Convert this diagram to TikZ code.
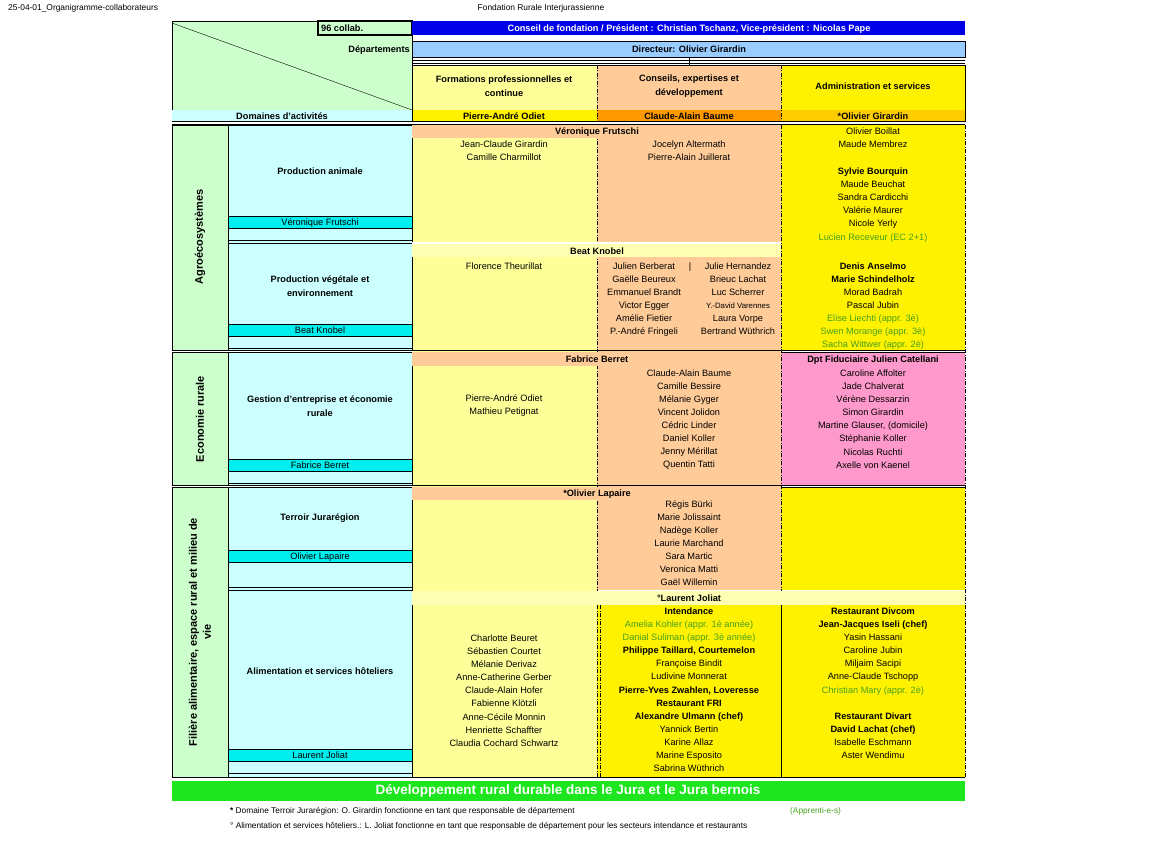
\documentclass[tikz,border=0pt]{standalone}
\usepackage{fontspec}
\setmainfont{Liberation Sans}
\usetikzlibrary{positioning}
\definecolor{hdrgreen}{RGB}{204,255,204}
\definecolor{ltcyan}{RGB}{204,255,255}
\definecolor{cyanbar}{RGB}{0,238,238}
\definecolor{ltyellow}{RGB}{255,255,153}
\definecolor{paleyellow}{RGB}{255,255,180}
\definecolor{peach}{RGB}{255,204,153}
\definecolor{orangecell}{RGB}{255,153,0}
\definecolor{ltorange}{RGB}{255,204,0}
\definecolor{pinkcell}{RGB}{255,153,204}
\definecolor{bluebar}{RGB}{0,0,230}
\definecolor{ltblue}{RGB}{153,204,255}
\definecolor{greenbar}{RGB}{30,230,30}
\definecolor{apprgreen}{RGB}{70,160,30}
\tikzset{
  txt/.style={inner sep=0pt, yshift=-1pt, text height=6.6pt, text depth=1.9pt, font=\fontsize{9.2}{10}\selectfont},
  btxt/.style={txt, font=\fontsize{9.2}{10}\selectfont\bfseries},
  gtxt/.style={txt, text=apprgreen},
  mtxt/.style={inner sep=0pt, align=center, font=\fontsize{9.2}{14}\selectfont\bfseries},
  vtxt/.style={inner sep=0pt, rotate=90, font=\fontsize{11}{13}\selectfont\bfseries},
  sep/.style={dash pattern=on 4pt off 1.5pt on 1pt off 1.5pt, line width=0.6pt},
  frame/.style={draw=black, line width=0.6pt}
}
\begin{document}
\begin{tikzpicture}[x=1pt, y=-1pt]
\useasboundingbox (0,0) rectangle (1150,848);
% page header
\node[txt, anchor=west, font=\fontsize{8.4}{9}\selectfont] (file) at (8,7) {25-04-01\_Organigramme-collaborateurs};
\node[txt, font=\fontsize{8.4}{9}\selectfont] (found) at (541,7) {Fondation Rurale Interjurassienne};
% top header
\fill[hdrgreen] (172,21) rectangle (412,110);
\draw[frame] (172,21) rectangle (412,110);
\draw (172,23) -- (412,110);
\draw[frame, fill=hdrgreen, line width=1.2pt] (318,21) rectangle (412,35);
\node[btxt, anchor=west] (collab) at (321,28) {96 collab.};
\fill[bluebar] (412,21) rectangle (965,35);
\node[btxt, text=white] (conseil) at (689,28) {Conseil de fondation / Président : Christian Tschanz, Vice-président : Nicolas Pape};
\draw[frame, fill=ltblue] (412,41) rectangle (965,57);
\node[btxt] (dir) at (689,49) {Directeur: Olivier Girardin};
\node[btxt, anchor=east] (dep) at (410,49) {Départements};
\draw (412,60) -- (965,60) (412,63) -- (965,63) (689,57) -- (689,65);
% department headers
\fill[ltyellow] (412,65) rectangle (597,110);
\fill[peach] (597,65) rectangle (781,110);
\fill[yellow] (781,65) rectangle (965,110);
\fill[yellow] (412,110) rectangle (597,121);
\fill[orangecell] (597,110) rectangle (781,121);
\fill[ltorange] (781,110) rectangle (965,121);
\fill[ltcyan] (172,110) rectangle (412,121);
\draw[frame] (412,65) rectangle (965,121);
\draw[sep] (597,65) -- (597,121) (781,65) -- (781,121);
\node[mtxt] (dform) at (504,86) {Formations professionnelles et\\continue};
\node[mtxt] (dcons) at (689,86) {Conseils, expertises et\\développement};
\node[btxt] (dadm) at (873,86) {Administration et services};
\node[btxt] (hform) at (504,116) {Pierre-André Odiet};
\node[btxt] (hcons) at (689,116) {Claude-Alain Baume};
\node[btxt] (hadm) at (873,116) {*Olivier Girardin};
\node[btxt] (dom) at (282,116) {Domaines d'activités};
\draw (172,121) -- (965,121) (172,124) -- (965,124);
% body backgrounds
\fill[ltyellow] (412,125) rectangle (597,777);
\fill[peach] (597,125) rectangle (781,590);
\fill[yellow] (597,605) rectangle (781,777);
\fill[yellow] (781,125) rectangle (965,350);
\fill[pinkcell] (781,352) rectangle (965,485);
\fill[yellow] (781,487) rectangle (965,590);
\fill[yellow] (781,605) rectangle (965,777);
% left columns
\foreach \ya/\yb in {125/350, 352/485, 487/777}
  \draw[frame, fill=hdrgreen] (172,\ya) rectangle (228,\yb);
\foreach \ya/\yb/\yc/\yd/\ye in {125/216/228/240/243, 243/324/336/348/350, 352/459/471/483/485, 487/550/562/587/590, 590/749/761/773/777}{
  \draw[frame, fill=ltcyan] (228,\ya) rectangle (412,\ye);
  \draw[frame, fill=cyanbar] (228,\yb) rectangle (412,\yc);
  \draw (228,\yd) -- (412,\yd);
}
\node[vtxt] (agro) at (200,237) {Agroécosystèmes};
\node[vtxt] (eco) at (200,419) {Economie rurale};
\node[vtxt, align=center] (fil) at (200,632) {Filière alimentaire, espace rural et milieu de\\[1pt]vie};
\node[btxt] (panim) at (320,171) {Production animale};
\node[txt] (panimn) at (320,222) {Véronique Frutschi};
\node[mtxt] (pveg) at (320,286) {Production végétale et\\environnement};
\node[txt] (pvegn) at (320,330) {Beat Knobel};
\node[mtxt] (gest) at (320,406) {Gestion d'entreprise et économie\\rurale};
\node[txt] (gestn) at (320,465) {Fabrice Berret};
\node[btxt] (terr) at (320,517) {Terroir Jurarégion};
\node[txt] (terrn) at (320,556) {Olivier Lapaire};
\node[btxt] (alim) at (320,671) {Alimentation et services hôteliers};
\node[txt] (alimn) at (320,755) {Laurent Joliat};
% section separators
\foreach \y in {350, 352, 485, 487}
  \draw (172,\y) -- (965,\y);
\draw (172,777) -- (965,777);
\draw[sep] (597,125) -- (597,777) (781,125) -- (781,777) (965,125) -- (965,777);
\draw[sep] (600,605) -- (600,777);
\draw (781,605) -- (781,777) -- (965,777);
% section heads, over the dashed lines
\fill[peach] (412,125) rectangle (781,138);
\fill[white] (412,242) rectangle (781,244);
\fill[paleyellow] (412,244) rectangle (781,257);
\fill[peach] (412,352) rectangle (781,366);
\fill[peach] (412,487) rectangle (781,500);
\fill[paleyellow] (412,591) rectangle (965,605);
\node[btxt] (hvf) at (597,131) {Véronique Frutschi};
\node[btxt] (hbk) at (597,251) {Beat Knobel};
\node[btxt] (hfb) at (597,359) {Fabrice Berret};
\node[btxt] (hol) at (597,493) {*Olivier Lapaire};
\node[btxt] (hlj) at (689,598) {°Laurent Joliat};
% production animale
\foreach \n [count=\i] in {Jean-Claude Girardin, Camille Charmillot}
  \node[txt] (a1r\i) at (504,131+13*\i) {\n};
\foreach \n [count=\i] in {Jocelyn Altermath, Pierre-Alain Juillerat}
  \node[txt] (a2r\i) at (689,131+13*\i) {\n};
\foreach \n [count=\i] in {Olivier Boillat, Maude Membrez, {}, \textbf{Sylvie Bourquin}, Maude Beuchat, Sandra Cardicchi, Valérie Maurer, Nicole Yerly}
  \node[txt] (a3r\i) at (873,118+13.2*\i) {\n};
\node[gtxt] (a3r9) at (873,237) {Lucien Receveur (EC 2+1)};
% production vegetale
\node[txt] (v1r1) at (504,266) {Florence Theurillat};
\foreach \n [count=\i] in {Julien Berberat, Gaëlle Beureux, Emmanuel Brandt, Victor Egger, Amélie Fietier, P.-André Fringeli}
  \node[txt] (v2ar\i) at (644,253+13*\i) {\n};
\foreach \n [count=\i] in {Julie Hernandez, Brieuc Lachat, Luc Scherrer, {\fontsize{7.8}{9}\selectfont Y.-David Varennes}, Laura Vorpe, Bertrand Wüthrich}
  \node[txt] (v2br\i) at (738,253+13*\i) {\n};
\node[txt] (v2bar) at (690,266) {|};
\foreach \n [count=\i] in {\textbf{Denis Anselmo}, \textbf{Marie Schindelholz}, Morad Badrah, Pascal Jubin}
  \node[txt] (v3r\i) at (873,253+13*\i) {\n};
\foreach \n [count=\i] in {Elise Liechti (appr. 3è), Swen Morange (appr. 3è), Sacha Wittwer (appr. 2è)}
  \node[gtxt] (v3g\i) at (873,305+13*\i) {\n};
% economie rurale
\node[txt] (e1r1) at (504,398) {Pierre-André Odiet};
\node[txt] (e1r2) at (504,411) {Mathieu Petignat};
\foreach \n [count=\i] in {Claude-Alain Baume, Camille Bessire, Mélanie Gyger, Vincent Jolidon, Cédric Linder, Daniel Koller, Jenny Mérillat, Quentin Tatti}
  \node[txt] (e2r\i) at (689,360+13*\i) {\n};
\node[btxt] (e3h) at (873,359) {Dpt Fiduciaire Julien Catellani};
\foreach \n [count=\i] in {Caroline Affolter, Jade Chalverat, Vérène Dessarzin, Simon Girardin, {Martine Glauser, (domicile)}, Stéphanie Koller, Nicolas Ruchti, Axelle von Kaenel}
  \node[txt] (e3r\i) at (873,360+13.1*\i) {\n};
% terroir
\foreach \n [count=\i] in {Régis Bürki, Marie Jolissaint, Nadège Koller, Laurie Marchand, Sara Martic, Veronica Matti, Gaël Willemin}
  \node[txt] (t2r\i) at (689,491+13*\i) {\n};
% alimentation
\foreach \n [count=\i] in {Charlotte Beuret, Sébastien Courtet, Mélanie Derivaz, Anne-Catherine Gerber, Claude-Alain Hofer, Fabienne Klötzli, Anne-Cécile Monnin, Henriette Schaffter, Claudia Cochard Schwartz}
  \node[txt] (s1r\i) at (504,625+13.1*\i) {\n};
\foreach \n [count=\i] in {\textbf{Intendance}, \textcolor{apprgreen}{Amelia Kohler (appr. 1è année)}, \textcolor{apprgreen}{Danial Suliman (appr. 3è année)}, \textbf{Philippe Taillard, Courtemelon}, Françoise Bindit, Ludivine Monnerat, \textbf{Pierre-Yves Zwahlen, Loveresse}, \textbf{Restaurant FRI}, \textbf{Alexandre Ulmann (chef)}, Yannick Bertin, Karine Allaz, Marine Esposito, Sabrina Wüthrich}
  \node[txt] (s2r\i) at (689,598+13.1*\i) {\n};
\foreach \n [count=\i] in {\textbf{Restaurant Divcom}, \textbf{Jean-Jacques Iseli (chef)}, Yasin Hassani, Caroline Jubin, Miljaim Sacipi, Anne-Claude Tschopp, \textcolor{apprgreen}{Christian Mary (appr. 2è)}, {}, \textbf{Restaurant Divart}, \textbf{David Lachat (chef)}, Isabelle Eschmann, Aster Wendimu}
  \node[txt] (s3r\i) at (873,598+13.1*\i) {\n};
% bottom
\fill[greenbar] (172,781) rectangle (965,801);
\node[txt, text=white, font=\fontsize{13.5}{15}\selectfont\bfseries] (goal) at (568,791) {Développement rural durable dans le Jura et le Jura bernois};
\node[txt, anchor=west, font=\fontsize{8.3}{9}\selectfont] (fn1) at (230,810) {\textbf{*} Domaine Terroir Jurarégion: O. Girardin fonctionne en tant que responsable de département};
\node[txt, anchor=west, text=apprgreen, font=\fontsize{8.3}{9}\selectfont] (fnappr) at (790,810) {(Apprenti-e-s)};
\node[txt, anchor=west, font=\fontsize{8.3}{9}\selectfont] (fn2) at (230,825) {° Alimentation et services hôteliers.: L. Joliat fonctionne en tant que responsable de département pour les secteurs intendance et restaurants};
\end{tikzpicture}
\end{document}
